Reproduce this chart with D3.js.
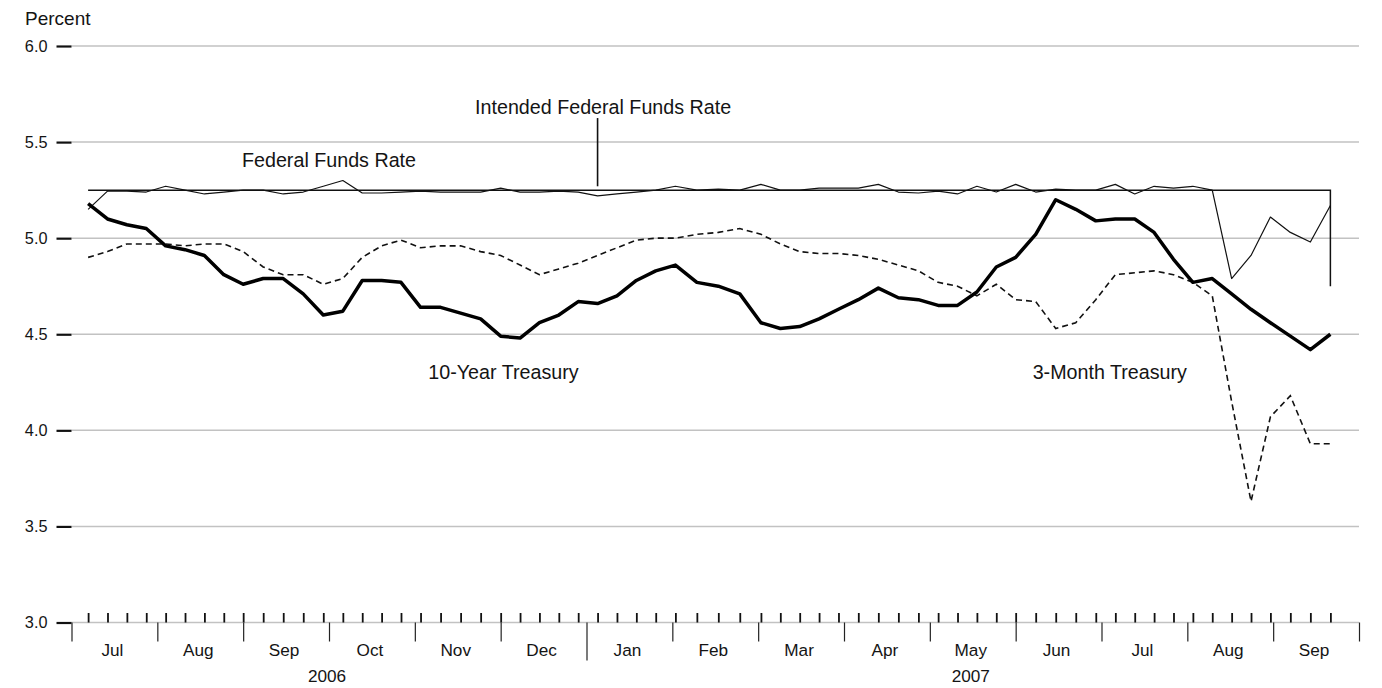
<!DOCTYPE html>
<html>
<head>
<meta charset="utf-8">
<script src="https://cdn.jsdelivr.net/npm/d3@7"></script>
<style>
  body { margin: 0; background: #fff; }
  text { font-family: "Liberation Sans", Arial, Helvetica, sans-serif; fill: #141414; }
</style>
</head>
<body>
<svg id="chart"></svg>
<script>
// weekly observations (week ending Friday)
const weeks = [
  "2006-07-07","2006-07-14","2006-07-21","2006-07-28",
  "2006-08-04","2006-08-11","2006-08-18","2006-08-25",
  "2006-09-01","2006-09-08","2006-09-15","2006-09-22","2006-09-29",
  "2006-10-06","2006-10-13","2006-10-20","2006-10-27",
  "2006-11-03","2006-11-10","2006-11-17","2006-11-24",
  "2006-12-01","2006-12-08","2006-12-15","2006-12-22","2006-12-29",
  "2007-01-05","2007-01-12","2007-01-19","2007-01-26",
  "2007-02-02","2007-02-09","2007-02-16","2007-02-23",
  "2007-03-02","2007-03-09","2007-03-16","2007-03-23","2007-03-30",
  "2007-04-06","2007-04-13","2007-04-20","2007-04-27",
  "2007-05-04","2007-05-11","2007-05-18","2007-05-25",
  "2007-06-01","2007-06-08","2007-06-15","2007-06-22","2007-06-29",
  "2007-07-06","2007-07-13","2007-07-20","2007-07-27",
  "2007-08-03","2007-08-10","2007-08-17","2007-08-24","2007-08-31",
  "2007-09-07","2007-09-14","2007-09-21"
];

const tenYear = [
  5.18, 5.10, 5.07, 5.05,
  4.96, 4.94, 4.91, 4.81,
  4.76, 4.79, 4.79, 4.71, 4.60,
  4.62, 4.78, 4.78, 4.77,
  4.64, 4.64, 4.61, 4.58,
  4.49, 4.48, 4.56, 4.60, 4.67,
  4.66, 4.70, 4.78, 4.83,
  4.86, 4.77, 4.75, 4.71,
  4.56, 4.53, 4.54, 4.58, 4.63,
  4.68, 4.74, 4.69, 4.68,
  4.65, 4.65, 4.72, 4.85,
  4.90, 5.02, 5.20, 5.15, 5.09,
  5.10, 5.10, 5.03, 4.89,
  4.77, 4.79, 4.71, 4.63, 4.56,
  4.49, 4.42, 4.50
];

const threeMonth = [
  4.90, 4.93, 4.97, 4.97,
  4.97, 4.96, 4.97, 4.97,
  4.93, 4.85, 4.81, 4.81, 4.76,
  4.79, 4.90, 4.96, 4.99,
  4.95, 4.96, 4.96, 4.93,
  4.91, 4.86, 4.81, 4.84, 4.87,
  4.91, 4.95, 4.99, 5.00,
  5.00, 5.02, 5.03, 5.05,
  5.02, 4.97, 4.93, 4.92, 4.92,
  4.91, 4.89, 4.86, 4.83,
  4.77, 4.75, 4.70, 4.76,
  4.68, 4.67, 4.53, 4.56, 4.68,
  4.81, 4.82, 4.83, 4.81,
  4.77, 4.70, 4.15, 3.63, 4.07,
  4.18, 3.93, 3.93
];

const fedFunds = [
  5.15, 5.245, 5.245, 5.24,
  5.27, 5.25, 5.23, 5.24,
  5.25, 5.25, 5.23, 5.24, 5.27,
  5.30, 5.235, 5.235, 5.24,
  5.245, 5.24, 5.24, 5.24,
  5.26, 5.24, 5.24, 5.245, 5.24,
  5.22, 5.23, 5.24, 5.25,
  5.27, 5.25, 5.255, 5.25,
  5.28, 5.25, 5.25, 5.26, 5.26,
  5.26, 5.28, 5.24, 5.235,
  5.245, 5.23, 5.27, 5.24,
  5.28, 5.24, 5.255, 5.25, 5.25,
  5.28, 5.23, 5.27, 5.26,
  5.27, 5.25, 4.79, 4.91, 5.11,
  5.03, 4.98, 5.17
];

const intendedRate = [
  5.25, 5.25, 5.25, 5.25,
  5.25, 5.25, 5.25, 5.25,
  5.25, 5.25, 5.25, 5.25, 5.25,
  5.25, 5.25, 5.25, 5.25,
  5.25, 5.25, 5.25, 5.25,
  5.25, 5.25, 5.25, 5.25, 5.25,
  5.25, 5.25, 5.25, 5.25,
  5.25, 5.25, 5.25, 5.25,
  5.25, 5.25, 5.25, 5.25, 5.25,
  5.25, 5.25, 5.25, 5.25,
  5.25, 5.25, 5.25, 5.25,
  5.25, 5.25, 5.25, 5.25, 5.25,
  5.25, 5.25, 5.25, 5.25,
  5.25, 5.25, 5.25, 5.25, 5.25,
  5.25, 5.25, 4.75
];

const yTicks = [3.0, 3.5, 4.0, 4.5, 5.0, 5.5, 6.0];
const monthLabels = ["Jul","Aug","Sep","Oct","Nov","Dec","Jan","Feb","Mar","Apr","May","Jun","Jul","Aug","Sep"];
const yearLabels = ["2006", "2007"];

// series labels, placed in data space: [text, date, value]
const annotations = [
  ["Intended Federal Funds Rate", "2007-01-07", 5.648],
  ["Federal Funds Rate", "2006-10-01", 5.37],
  ["10-Year Treasury", "2006-12-02", 4.265],
  ["3-Month Treasury", "2007-07-04", 4.265]
];

const width = 1382, height = 688;
const left = 71.5, right = 1359;
const parse = d3.timeParse("%Y-%m-%d");
const dates = weeks.map(parse);

const svg = d3.select("#chart").attr("width", width).attr("height", height);

// every month gets the same width on the axis
const monthStarts = d3.timeMonth.range(new Date(2006, 6, 1), new Date(2007, 9, 2));
const monthW = (right - left) / (monthStarts.length - 1);
const x = d3.scaleTime()
  .domain(monthStarts)
  .range(monthStarts.map((d, i) => left + i * monthW));

const y = d3.scaleLinear().domain([3, 6]).range([622.5, 46]);

// gridlines
svg.append("g")
  .selectAll("line")
  .data(yTicks)
  .join("line")
  .attr("x1", left).attr("x2", right)
  .attr("y1", d => y(d)).attr("y2", d => y(d))
  .attr("stroke", "#c2c2c2")
  .attr("stroke-width", 1.5);

// y axis: short ticks + labels, no domain line
const yAxis = svg.append("g")
  .attr("transform", `translate(${left},0)`)
  .call(d3.axisLeft(y).tickValues(yTicks).tickFormat(d3.format(".1f")).tickSize(15).tickPadding(9));
yAxis.select(".domain").remove();
yAxis.selectAll(".tick line").attr("stroke", "#111").attr("stroke-width", 2.2);
yAxis.selectAll(".tick text").attr("font-size", 16.3).attr("fill", "#141414")
  .style("font-family", "'Liberation Sans', Arial, sans-serif");

svg.append("text")
  .attr("x", 25).attr("y", 25)
  .attr("font-size", 19)
  .text("Percent");

// x axis: weekly ticks above the baseline
const xWeeks = svg.append("g")
  .attr("transform", `translate(0,${y(3)})`)
  .call(d3.axisBottom(x).tickValues(dates).tickSize(-9.5).tickFormat(""));
xWeeks.select(".domain").remove();
xWeeks.selectAll(".tick line").attr("stroke", "#111").attr("stroke-width", 1.8);

// month boundaries below the baseline, year break is longer
const xMonths = svg.append("g")
  .attr("transform", `translate(0,${y(3)})`)
  .call(d3.axisBottom(x).tickValues(monthStarts).tickSize(19).tickFormat(""));
xMonths.select(".domain").remove();
xMonths.selectAll(".tick line")
  .attr("stroke", "#222").attr("stroke-width", 1.2)
  .attr("y2", d => d.getMonth() === 0 ? 38 : 19);

// month labels centred in their month
svg.append("g")
  .selectAll("text")
  .data(monthLabels)
  .join("text")
  .attr("x", (d, i) => (x(monthStarts[i]) + x(monthStarts[i + 1])) / 2 - 2)
  .attr("y", 656)
  .attr("text-anchor", "middle")
  .attr("font-size", 17.2)
  .text(d => d);

// year labels centred under their months
const yearSpans = [[monthStarts[0], monthStarts[6]], [monthStarts[6], monthStarts[15]]];
svg.append("g")
  .selectAll("text")
  .data(yearLabels)
  .join("text")
  .attr("x", (d, i) => (x(yearSpans[i][0]) + x(yearSpans[i][1])) / 2 - 2)
  .attr("y", 682)
  .attr("text-anchor", "middle")
  .attr("font-size", 17.2)
  .text(d => d);

// series
const line = (vals, curve) => d3.line()
  .x((d, i) => x(dates[i]))
  .y(d => y(d))
  .curve(curve || d3.curveLinear)(vals);

svg.append("path")
  .attr("d", line(intendedRate, d3.curveStepAfter))
  .attr("fill", "none").attr("stroke", "#111").attr("stroke-width", 1.5);

svg.append("path")
  .attr("d", line(fedFunds))
  .attr("fill", "none").attr("stroke", "#111").attr("stroke-width", 1.2)
  .attr("stroke-linejoin", "round");

svg.append("path")
  .attr("d", line(threeMonth))
  .attr("fill", "none").attr("stroke", "#111").attr("stroke-width", 1.6)
  .attr("stroke-dasharray", "6,4");

svg.append("path")
  .attr("d", line(tenYear))
  .attr("fill", "none").attr("stroke", "#000").attr("stroke-width", 3.5)
  .attr("stroke-linejoin", "round");

// labels
svg.append("g")
  .selectAll("text")
  .data(annotations)
  .join("text")
  .attr("x", d => x(parse(d[1])))
  .attr("y", d => y(d[2]))
  .attr("text-anchor", "middle")
  .attr("font-size", 19.7)
  .text(d => d[0]);

// leader from the intended-rate label down to its line
const leaderDate = parse("2007-01-05");
svg.append("line")
  .attr("x1", x(leaderDate)).attr("x2", x(leaderDate))
  .attr("y1", y(5.625)).attr("y2", y(5.27))
  .attr("stroke", "#111").attr("stroke-width", 1.6);
</script>
</body>
</html>
